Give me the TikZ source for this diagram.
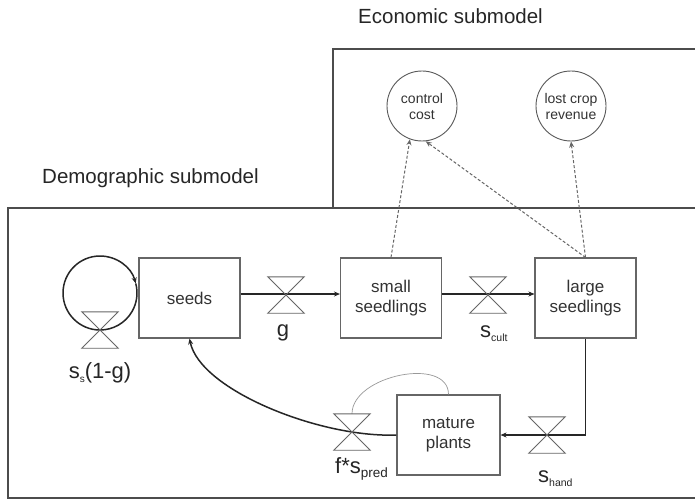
\documentclass[tikz,border=0pt]{standalone}
\usepackage{fontspec}
\setmainfont{Liberation Sans}
\usetikzlibrary{arrows.meta}
\tikzset{
  stock/.style={draw=black!60, line width=1.1pt, minimum width=101pt, minimum height=80pt, inner sep=0pt, align=center, font=\fontsize{17}{20}\selectfont, text=black!80},
  aux/.style={circle, draw=black!65, line width=0.9pt, minimum size=70pt, inner sep=0pt, align=center, font=\fontsize{14}{16}\selectfont, text=black!80},
  valve/.style={minimum width=36pt, minimum height=36pt, inner sep=0pt},
  vline/.style={draw=black!60, line width=0.9pt, line join=miter},
  flow/.style={draw=black!85, line width=1.5pt, -{Stealth[length=6pt,width=5pt]}},
  loopline/.style={draw=black!85, line width=1.5pt},
  info/.style={draw=black!60, line width=1pt, dash pattern=on 3pt off 2pt, -{Stealth[length=6pt,width=5pt]}},
  vlabel/.style={font=\fontsize{22}{24}\selectfont, text=black!85, inner sep=0pt, anchor=base west},
  frame/.style={draw=black!70, line width=1.4pt},
  title/.style={font=\fontsize{20.5}{24}\selectfont, text=black!85, inner sep=0pt, anchor=base west},
}
\newcommand\drawvalve[1]{\draw[vline] (#1.north west) -- (#1.north east) -- (#1.south west) -- (#1.south east) -- cycle;}
\newcommand\subtxt[2]{\raisebox{-4pt}{\fontsize{#1}{#1}\selectfont #2}}
\begin{document}
\begin{tikzpicture}[x=1pt,y=1pt]
\useasboundingbox (0,0) rectangle (695,-500);
\fill[white] (0,0) rectangle (695,-500);
\clip (0,0) rectangle (695,-500);

% frames
\draw[frame] (333,-208) -- (333,-49) -- (710,-49);
\draw[frame] (710,-208) -- (8,-208) -- (8,-498) -- (710,-498);
\node[title] (econ) at (358,-24) {Economic submodel};
\node[title] (demo) at (42,-183) {Demographic submodel};

% stocks
\node[stock] (seeds) at (189.5,-298) {seeds};
\node[stock] (small) at (391,-298) {small\\seedlings};
\node[stock] (large) at (585.5,-298) {large\\seedlings};
\node[stock, minimum width=103pt] (mature) at (448.5,-435) {mature\\plants};

% auxiliaries
\node[aux] (cc) at (422,-106) {control\\cost};
\node[aux] (lc) at (571,-106) {lost crop\\revenue};

% valves
\node[valve] (vss) at (100,-330) {};
\node[valve] (vg) at (286,-295) {};
\node[valve] (vcult) at (488,-295) {};
\node[valve] (vhand) at (547,-435) {};
\node[valve] (vpred) at (352,-432) {};

% flows
\draw[flow] ([yshift=4pt]seeds.east) -- ([yshift=4pt]small.west);
\draw[flow] ([yshift=4pt]small.east) -- ([yshift=4pt]large.west);
\draw[flow] (large.south) |- (mature.east);
\draw[flow] (mature.west) .. controls (320,-438) and (200,-390) .. (seeds.south);
\draw[loopline] (vss.center) arc[start angle=-90, end angle=15, radius=37];
\draw[flow] (vss.center) arc[start angle=270, end angle=15, radius=37];

% influence arc
\draw[black!40, line width=0.7pt] (vpred.north) to[out=90, in=90] (mature.north);

% valve symbols
\drawvalve{vss}
\drawvalve{vg}
\drawvalve{vcult}
\drawvalve{vhand}
\drawvalve{vpred}

% information links
\draw[info] (small.north) -- (cc.250);
\draw[info] (large.north) -- (cc.276);
\draw[info] (large.north) -- (lc.south);

% valve labels
\node[vlabel, anchor=base] (lss) at (100,-378) {s\subtxt{10}{s}(1-g)};
\node[vlabel, anchor=base] (lg) at (283,-336) {g};
\node[vlabel] (lcult) at (480,-337) {s\subtxt{10.5}{cult}};
\node[vlabel] (lhand) at (538,-482) {s\subtxt{10.5}{hand}};
\node[vlabel] (lpred) at (335,-473) {f*s\subtxt{13.5}{pred}};
\end{tikzpicture}
\end{document}
